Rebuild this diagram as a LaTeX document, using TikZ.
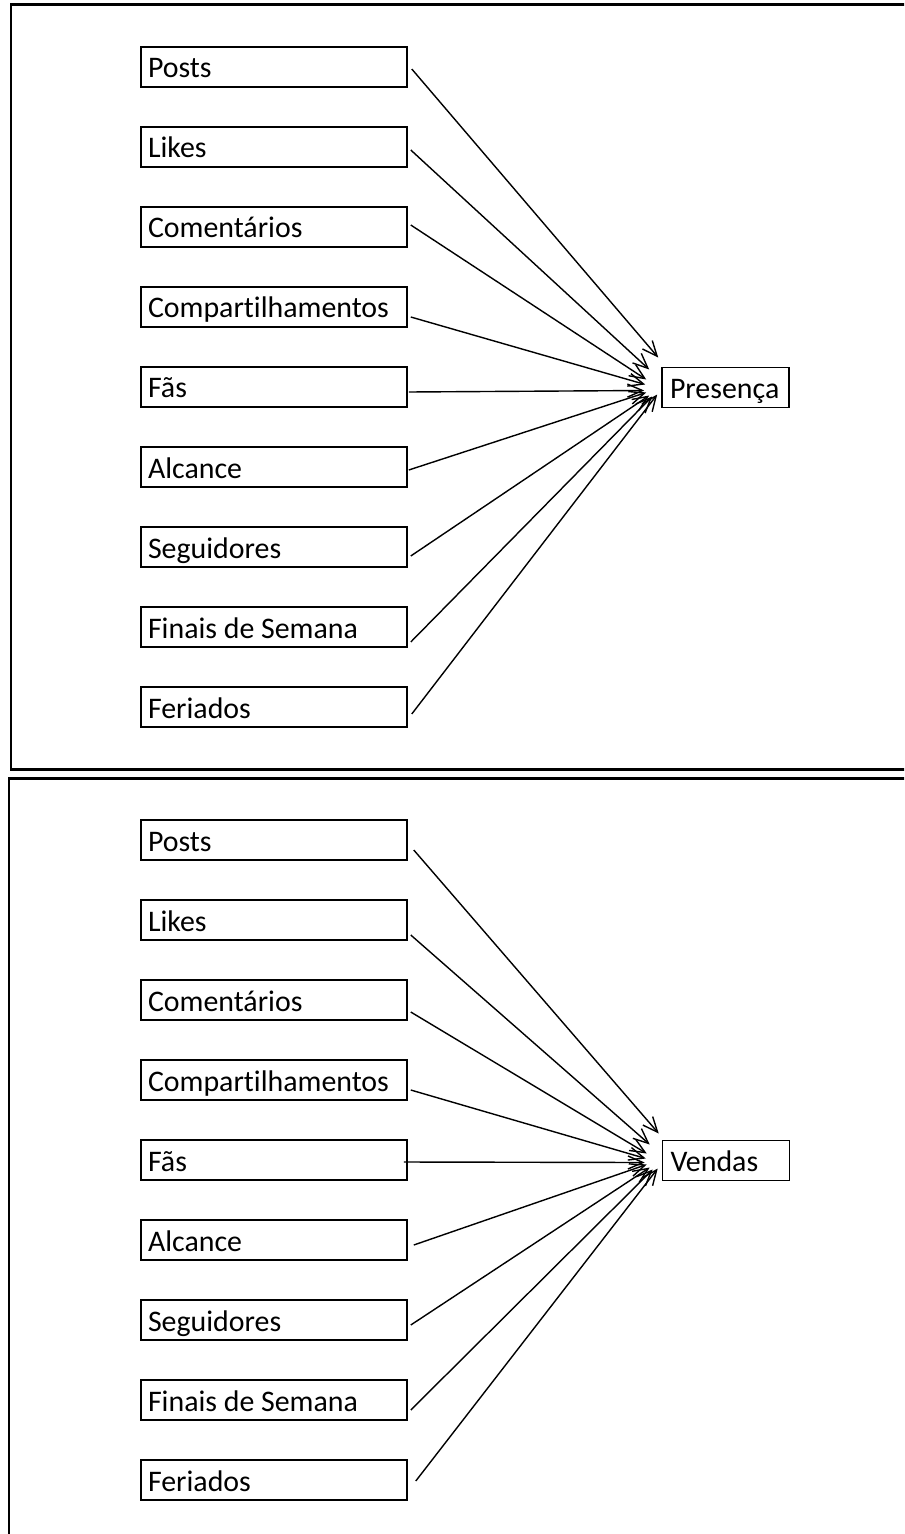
\documentclass[tikz,border=0pt]{standalone}
\usepackage{fontspec}
\setmainfont{Carlito}[RawFeature={-liga;-clig;-calt}]
\usetikzlibrary{arrows.meta}

\tikzset{
  varbox/.style={draw,line width=0.9pt,minimum height=0.8cm,inner xsep=0.14cm,text width=5.04cm,text height=0.5cm,text depth=0.06cm,align=flush left,font=\fontsize{17}{20}\selectfont},
  resbox/.style={draw,line width=0.9pt,minimum height=0.8cm,inner xsep=0.16cm,text width=2.22cm,text height=0.5cm,text depth=0.06cm,align=flush left,font=\fontsize{17}{20}\selectfont},
  seta/.style={line width=0.8pt,-{Straight Barb[length=0.3cm,width=0.26cm]}},
  painel/.style={line width=0.06cm}
}

\begin{document}
\begin{tikzpicture}[x=0.02cm,y=-0.02cm]

\clip (0,0) rectangle (904,1534);
\useasboundingbox (0,0) rectangle (904,1534);

% painel de cima
\draw [painel] (11,5) rectangle (930,769);

\node (P1) at (274,67) [varbox] {Posts};
\node (P2) at (274,147) [varbox] {Likes};
\node (P3) at (274,227) [varbox] {Comentários};
\node (P4) at (274,307) [varbox] {Compartilhamentos};
\node (P5) at (274,387) [varbox] {Fãs};
\node (P6) at (274,467) [varbox] {Alcance};
\node (P7) at (274,547) [varbox] {Seguidores};
\node (P8) at (274,627) [varbox] {Finais de Semana};
\node (P9) at (274,707) [varbox] {Feriados};
\node (Pres) at (725.5,387.5) [resbox] {Presença};

\draw [seta] ([shift={(4,2)}]P1.east) -- ([shift={(-3,-30)}]Pres.west);
\draw [seta] ([shift={(3,3)}]P2.east) -- ([shift={(-12,-18)}]Pres.west);
\draw [seta] ([shift={(3,-2)}]P3.east) -- ([shift={(-15,-8)}]Pres.west);
\draw [seta] ([shift={(3,10)}]P4.east) -- ([shift={(-16,-3)}]Pres.west);
\draw [seta] ([shift={(1,5)}]P5.east) -- ([shift={(-17,3)}]Pres.west);
\draw [seta] ([shift={(1,3)}]P6.east) -- ([shift={(-15,5)}]Pres.west);
\draw [seta] ([shift={(3,9)}]P7.east) -- ([shift={(-12,8)}]Pres.west);
\draw [seta] ([shift={(3,15)}]P8.east) -- ([shift={(-9,9)}]Pres.west);
\draw [seta] ([shift={(4,7)}]P9.east) -- ([shift={(-4,7)}]Pres.west);

% painel de baixo
\draw [painel] (9,778) rectangle (930,1560);

\node (V1) at (274,840) [varbox] {Posts};
\node (V2) at (274,920) [varbox] {Likes};
\node (V3) at (274,1000) [varbox] {Comentários};
\node (V4) at (274,1080) [varbox] {Compartilhamentos};
\node (V5) at (274,1160) [varbox] {Fãs};
\node (V6) at (274,1240) [varbox] {Alcance};
\node (V7) at (274,1320) [varbox] {Seguidores};
\node (V8) at (274,1400) [varbox] {Finais de Semana};
\node (V9) at (274,1480) [varbox] {Feriados};
\node (Vend) at (726,1160.5) [resbox] {Vendas};

\draw [seta] ([shift={(6,10)}]V1.east) -- ([shift={(-3,-27)}]Vend.west);
\draw [seta] ([shift={(3,15)}]V2.east) -- ([shift={(-12,-16)}]Vend.west);
\draw [seta] ([shift={(3,12)}]V3.east) -- ([shift={(-15,-7)}]Vend.west);
\draw [seta] ([shift={(3,10)}]V4.east) -- ([shift={(-16,-2)}]Vend.west);
\draw [seta] ([shift={(-4,2)}]V5.east) -- ([shift={(-17,2)}]Vend.west);
\draw [seta] ([shift={(6,5)}]V6.east) -- ([shift={(-15,4)}]Vend.west);
\draw [seta] ([shift={(3,5)}]V7.east) -- ([shift={(-12,7)}]Vend.west);
\draw [seta] ([shift={(3,10)}]V8.east) -- ([shift={(-9,9)}]Vend.west);
\draw [seta] ([shift={(8,1)}]V9.east) -- ([shift={(-4,8)}]Vend.west);

\end{tikzpicture}
\end{document}
